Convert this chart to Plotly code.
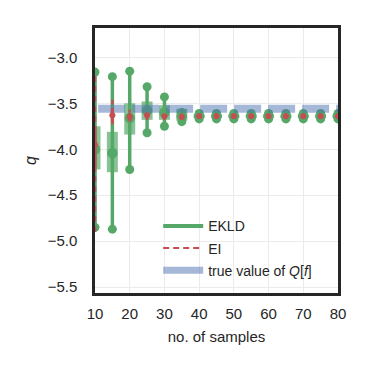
import plotly.graph_objects as go

# number of samples
samples = [10, 15, 20, 25, 30, 35, 40, 45, 50, 55, 60, 65, 70, 75, 80]

# EKLD: min / max, inter-quartile band and median
ekld_min = [-4.85, -4.87, -4.22, -3.82, -3.75, -3.70, -3.67, -3.67, -3.67, -3.67, -3.67, -3.67, -3.67, -3.67, -3.67]
ekld_max = [-3.16, -3.21, -3.15, -3.32, -3.43, -3.60, -3.61, -3.61, -3.61, -3.61, -3.61, -3.61, -3.61, -3.61, -3.61]
ekld_q25 = [-4.22, -4.25, -3.84, -3.68, -3.68, -3.69, -3.66, -3.66, -3.66, -3.66, -3.66, -3.66, -3.66, -3.66, -3.66]
ekld_q75 = [-3.75, -3.81, -3.50, -3.48, -3.52, -3.56, -3.62, -3.62, -3.62, -3.62, -3.62, -3.62, -3.62, -3.62, -3.62]
ekld_med = [-4.00, -4.04, -3.66, -3.58, -3.60, -3.64, -3.64, -3.64, -3.64, -3.64, -3.64, -3.64, -3.64, -3.64, -3.64]

# EI
ei_min = [-4.90, -3.73, -3.70, -3.68, -3.68, -3.67, -3.67, -3.67, -3.67, -3.67, -3.67, -3.67, -3.67, -3.67, -3.67]
ei_max = [-3.16, -3.46, -3.57, -3.58, -3.60, -3.61, -3.61, -3.61, -3.61, -3.61, -3.61, -3.61, -3.61, -3.61, -3.61]
ei_q25 = [-4.20, -3.70, -3.68, -3.66, -3.66, -3.66, -3.66, -3.66, -3.66, -3.66, -3.66, -3.66, -3.66, -3.66, -3.66]
ei_q75 = [-3.75, -3.55, -3.60, -3.61, -3.62, -3.62, -3.62, -3.62, -3.62, -3.62, -3.62, -3.62, -3.62, -3.62, -3.62]
ei_med = [-3.95, -3.63, -3.65, -3.63, -3.64, -3.65, -3.64, -3.64, -3.64, -3.64, -3.64, -3.64, -3.64, -3.64, -3.64]

true_q = -3.56

GREEN = "#55A868"
RED = "#C44E52"
BLUE = "#4C72B0"
FONT = "Liberation Sans, Arial, sans-serif"
TXT = "#262626"


def segments(xs, lo, hi):
    """Vertical segments separated by None."""
    sx, sy = [], []
    for x, a, b in zip(xs, lo, hi):
        sx += [x, x, None]
        sy += [a, b, None]
    return sx, sy


fig = go.Figure()

# EKLD
sx, sy = segments(samples, ekld_min, ekld_max)
fig.add_trace(go.Scatter(x=sx, y=sy, mode="lines+markers", showlegend=False,
                         line=dict(color=GREEN, width=3.5),
                         marker=dict(color=GREEN, size=9)))
sx, sy = segments(samples, ekld_q25, ekld_q75)
fig.add_trace(go.Scatter(x=sx, y=sy, mode="lines", showlegend=False,
                         line=dict(color="rgba(85,168,104,0.7)", width=11)))
fig.add_trace(go.Scatter(x=samples, y=ekld_med, mode="markers", showlegend=False,
                         marker=dict(color=GREEN, size=10.5)))

# true value
fig.add_trace(go.Scatter(x=[10.9, 80], y=[true_q, true_q], mode="lines", showlegend=False,
                         line=dict(color="rgba(76,114,176,0.5)", width=8, dash="27px,7px")))

# EI
sx, sy = segments(samples, ei_min, ei_max)
fig.add_trace(go.Scatter(x=sx, y=sy, mode="lines", showlegend=False,
                         line=dict(color=RED, width=2.5, dash="6px,4px")))
sx, sy = segments(samples, ei_q25, ei_q75)
fig.add_trace(go.Scatter(x=sx, y=sy, mode="lines", showlegend=False,
                         line=dict(color=RED, width=3)))
fig.add_trace(go.Scatter(x=samples, y=ei_med, mode="markers", showlegend=False,
                         marker=dict(color=RED, size=6)))

# legend entries
fig.add_trace(go.Scatter(x=[None], y=[None], mode="lines", name="EKLD", legendgroup="a",
                         line=dict(color=GREEN, width=4)))
fig.add_trace(go.Scatter(x=[None], y=[None], mode="lines", name="EI", legendgroup="b",
                         line=dict(color=RED, width=2, dash="6px,4px")))
fig.add_trace(go.Scatter(x=[None], y=[None], mode="lines", name="true value of <i>Q</i>[<i>f</i>]",
                         legendgroup="c", line=dict(color="rgba(76,114,176,0.5)", width=7)))

axis_common = dict(showline=True, mirror=True, linecolor=TXT, linewidth=2.5,
                   showgrid=True, gridcolor="#EBEBEB", gridwidth=1, zeroline=False,
                   ticks="", tickfont=dict(size=15, color=TXT))

fig.update_xaxes(range=[10, 80], tickvals=[10, 20, 30, 40, 50, 60, 70, 80],
                 ticklabelstandoff=5,
                 title=dict(text="no. of samples", font=dict(size=15, color=TXT), standoff=11),
                 **axis_common)
fig.update_yaxes(range=[-5.565, -2.68], tickvals=[-3.0, -3.5, -4.0, -4.5, -5.0, -5.5],
                 tickformat=".1f", ticklabelstandoff=12,
                 title=dict(text="<i>q</i>", font=dict(size=16, color=TXT), standoff=8),
                 **axis_common)

fig.update_layout(
    width=365, height=365,
    margin=dict(l=87, r=35, t=20, b=80),
    plot_bgcolor="white", paper_bgcolor="white",
    font=dict(family=FONT, size=15, color=TXT),
    legend=dict(x=0.26, y=0.312, xanchor="left", yanchor="top",
                bgcolor="rgba(0,0,0,0)", tracegroupgap=1, itemwidth=40,
                font=dict(size=14, color=TXT)),
)

fig.write_html("out.html")
